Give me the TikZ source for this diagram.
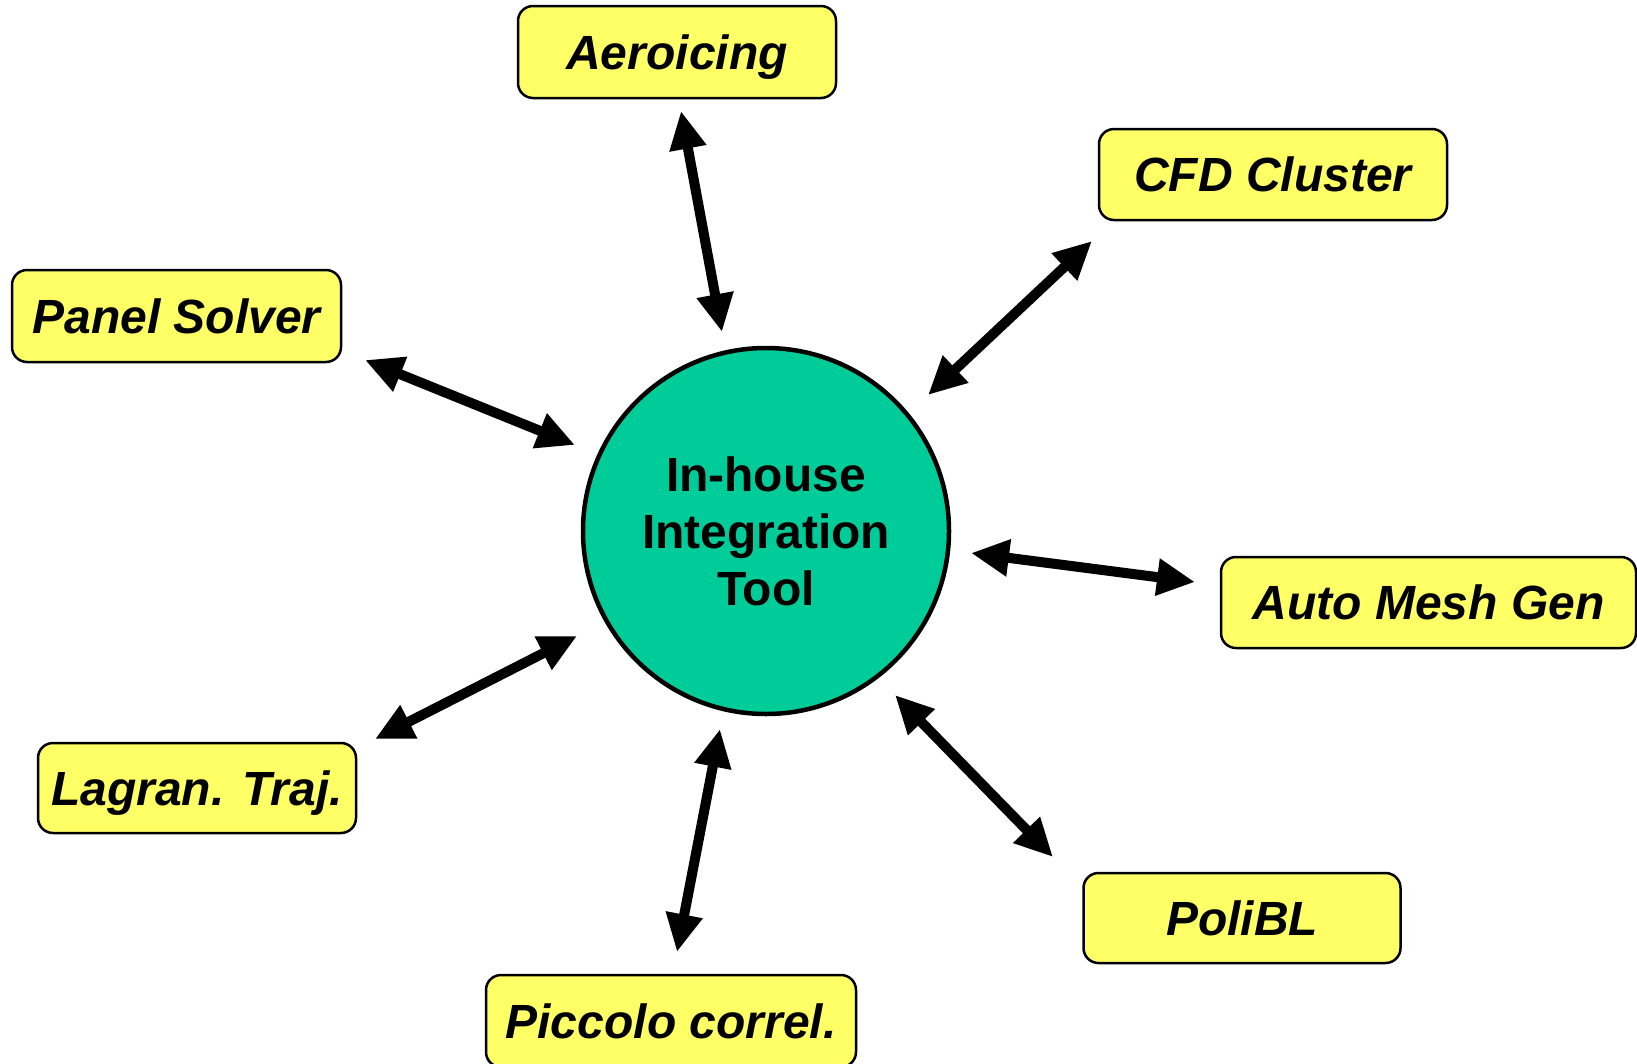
\documentclass[tikz,border=0pt]{standalone}
\usepackage{fontspec}
\setmainfont{Liberation Sans}
\usetikzlibrary{arrows.meta}
\definecolor{boxyellow}{RGB}{255,255,102}
\definecolor{hubgreen}{RGB}{0,204,153}
\begin{document}
\begin{tikzpicture}[x=1pt,y=-1pt,
  modbox/.style={draw=black, line width=2.5pt, fill=boxyellow, rounded corners=15pt,
    inner sep=0pt, text height=34pt, text depth=0pt,
    font=\fontsize{48pt}{57pt}\selectfont\bfseries\itshape},
  hub/.style={circle, draw=black, line width=4.5pt, fill=hubgreen, minimum size=366pt,
    inner sep=0pt, align=center, font=\fontsize{48pt}{57pt}\selectfont\bfseries},
  link/.style={line width=10pt, {Triangle[length=38pt,width=35pt]}-{Triangle[length=38pt,width=35pt]}}
]
\useasboundingbox (0,0) rectangle (1637,1063);
\fill[white] (0,0) rectangle (1637,1063);

\node[hub] (hub) at (766,531) {In-house\\Integration\\Tool};

\node[modbox, minimum width=318pt, minimum height=92pt] (aero) at (677,52) {Aeroicing};
\node[modbox, minimum width=348pt, minimum height=91pt] (cfd) at (1273,174.5) {CFD Cluster};
\node[modbox, minimum width=329pt, minimum height=92pt] (panel) at (176.5,316) {Panel Solver};
\node[modbox, minimum width=415pt, minimum height=91pt] (mesh) at (1428.5,602.5) {Auto Mesh Gen};
\node[modbox, minimum width=318pt, minimum height=90pt] (lagr) at (197,788) {Lagran. Traj.};
\node[modbox, minimum width=317pt, minimum height=90pt] (poli) at (1242,918) {PoliBL};
\node[modbox, minimum width=370pt, minimum height=92pt] (picc) at (671,1021) {Piccolo correl.};

\coordinate (aeroA) at (681,111);   \coordinate (aeroB) at (722,332);
\coordinate (cfdA) at (1092,241);   \coordinate (cfdB) at (928,395);
\coordinate (panelA) at (365,360);  \coordinate (panelB) at (575,445);
\coordinate (meshA) at (1195,582);  \coordinate (meshB) at (971,553);
\coordinate (lagrA) at (375,739);   \coordinate (lagrB) at (577,636);
\coordinate (poliA) at (1053,857);  \coordinate (poliB) at (895,695);
\coordinate (piccA) at (677,952);   \coordinate (piccB) at (720,729);

\draw[link] (aeroA) -- (aeroB);
\draw[link] (cfdA) -- (cfdB);
\draw[link] (panelA) -- (panelB);
\draw[link] (meshA) -- (meshB);
\draw[link] (lagrA) -- (lagrB);
\draw[link] (poliA) -- (poliB);
\draw[link] (piccA) -- (piccB);
\end{tikzpicture}
\end{document}
